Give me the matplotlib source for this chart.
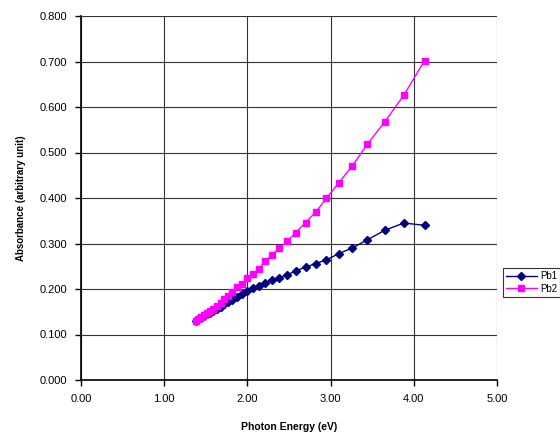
import matplotlib
matplotlib.use("Agg")
import matplotlib.pyplot as plt
from matplotlib.ticker import FixedLocator

energy = [4.13, 3.88, 3.65, 3.44, 3.26, 3.10, 2.95, 2.82, 2.70, 2.58, 2.48,
          2.38, 2.30, 2.21, 2.14, 2.07, 2.00, 1.94, 1.88, 1.82, 1.77, 1.72,
          1.68, 1.63, 1.59, 1.55, 1.51, 1.48, 1.44, 1.41, 1.38]
pb1 = [0.340, 0.345, 0.329, 0.308, 0.290, 0.278, 0.264, 0.256, 0.248, 0.240, 0.231,
       0.225, 0.220, 0.214, 0.207, 0.203, 0.195, 0.188, 0.182, 0.176, 0.171, 0.166,
       0.161, 0.156, 0.152, 0.148, 0.144, 0.140, 0.136, 0.133, 0.129]
pb2 = [0.702, 0.626, 0.567, 0.518, 0.470, 0.434, 0.399, 0.369, 0.346, 0.324, 0.305,
       0.290, 0.275, 0.261, 0.245, 0.234, 0.224, 0.211, 0.204, 0.194, 0.185, 0.177,
       0.169, 0.163, 0.157, 0.152, 0.147, 0.143, 0.138, 0.134, 0.130]
xticks = [0, 1, 2, 3, 4, 5]
yticks = [0.0, 0.1, 0.2, 0.3, 0.4, 0.5, 0.6, 0.7, 0.8]

plt.rcParams['font.family'] = ['Liberation Sans', 'DejaVu Sans']

fig = plt.figure(figsize=(5.6, 4.34), dpi=100)
ax = fig.add_axes([81/560, 54/434, 416/560, 364/434])

ax.plot(energy, pb1, color='#000080', marker='D', markersize=4, linewidth=1, label='Pb1')
ax.plot(energy, pb2, color='#FF00FF', marker='s', markersize=4.6, linewidth=1, label='Pb2')

ax.set_xlim(0, 5)
ax.set_ylim(0, 0.8)
ax.xaxis.set_major_locator(FixedLocator(xticks))
ax.yaxis.set_major_locator(FixedLocator(yticks))
ax.set_xticklabels([f"{v:.2f}" for v in xticks], fontsize=8)
ax.set_yticklabels([f"{v:.3f}" for v in yticks], fontsize=8)
ax.grid(True, color='#333333', linewidth=0.8)
ax.set_axisbelow(True)
for s in ['top', 'right']:
    ax.spines[s].set_visible(False)
for s in ['left', 'bottom']:
    ax.spines[s].set_linewidth(1.2)
ax.tick_params(direction='out', length=4, width=1, pad=6)

ax.set_xlabel('Photon Energy (eV)', fontsize=7.5, fontweight='bold', labelpad=13)
ax.set_ylabel('Absorbance (arbitrary unit)', fontsize=7, fontweight='bold', labelpad=10)

leg = fig.legend(loc='upper left', bbox_to_anchor=(503/560, 1 - 268/434),
                 fontsize=7, frameon=True, fancybox=False, edgecolor='black',
                 borderpad=0.3, labelspacing=0.3, handlelength=3.2, handletextpad=0.3,
                 borderaxespad=0)
leg.get_frame().set_linewidth(0.8)

fig.savefig('out.png', dpi=100)
